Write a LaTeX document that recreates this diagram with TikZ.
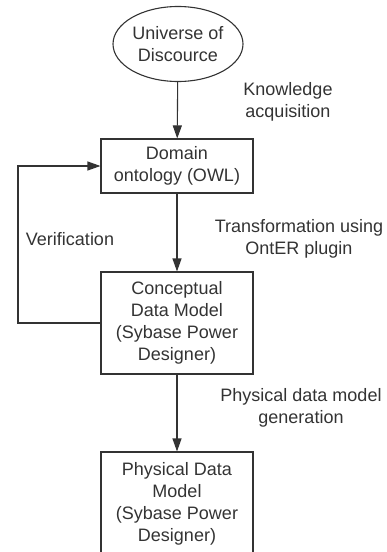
\documentclass[tikz,border=0pt]{standalone}
\usepackage{fontspec}
\setmainfont{Liberation Sans}
\usetikzlibrary{shapes.geometric,arrows.meta}

\begin{document}
\begin{tikzpicture}[x=1pt,y=-1pt,
    font=\fontsize{18}{22}\selectfont,
    every node/.style={text=black!80},
    box/.style={draw=black!80, line width=1.1pt, align=center, inner sep=0pt,
      minimum width=152pt},
    lbl/.style={align=center, inner sep=0pt},
    arr/.style={draw=black!80, line width=1.1pt, -{Triangle[length=13pt,width=9pt]}}]
  \useasboundingbox (0,0) rectangle (387,552);
  \clip (0,0) rectangle (387,552);

  \node[ellipse, draw=black!80, line width=1.1pt, align=center, inner sep=0pt,
    minimum width=130pt, minimum height=75pt] (uod) at (178,44) {Universe of\\Discource};
  \node[box, minimum height=54pt] (dom) at (177,166) {Domain\\ontology (OWL)};
  \node[box, minimum height=102pt] (cdm) at (177,323) {Conceptual\\Data Model\\(Sybase Power\\Designer)};
  \node[box, minimum height=104pt] (pdm) at (177,504) {Physical Data\\Model\\(Sybase Power\\Designer)};

  \draw[arr] (uod) -- (dom);
  \draw[arr] (dom) -- (cdm);
  \draw[arr] (cdm) -- (pdm);

  % verification loop
  \coordinate (back) at (18,240);
  \draw[arr] (cdm.west) -- (cdm.west -| back) |- (dom.west);

  \node[lbl] (ka) at (288,102) {Knowledge\\acquisition};
  \node[lbl] (tr) at (299,239) {Transformation using\\OntER plugin};
  \node[lbl] (ver) at (70,239) {Verification};
  \node[lbl] (gen) at (301,408) {Physical data model\\generation};
\end{tikzpicture}
\end{document}
